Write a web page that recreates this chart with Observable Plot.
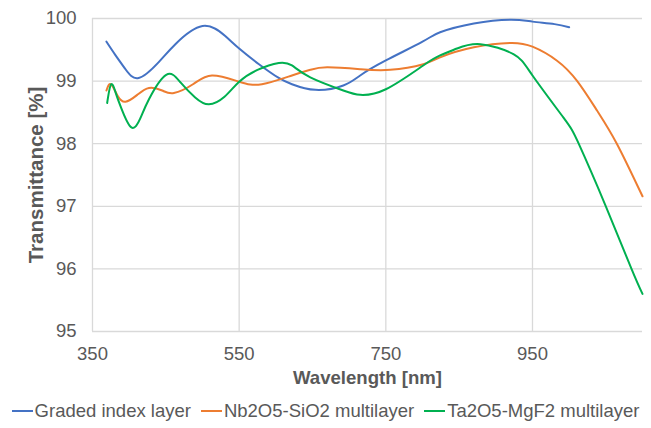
<!DOCTYPE html>
<html>
<head>
<meta charset="utf-8">
<script src="https://cdn.jsdelivr.net/npm/d3@7"></script>
<script src="https://cdn.jsdelivr.net/npm/@observablehq/plot@0.6"></script>
<style>
  body { margin: 0; background: #fff; font-family: "Liberation Sans", Arial, sans-serif; }
  #legend { display: flex; justify-content: center; align-items: center; height: 22px; margin-top: 2px;
            font-size: 18.5px; color: #595959; white-space: nowrap; }
  .item { display: flex; align-items: center; margin: 0 5px; }
  .sw { width: 21px; height: 2px; margin-right: 2px; }
</style>
</head>
<body>
<div id="chart"></div>
<div id="legend"></div>
<script>
// ---- data ----
const seriesNames = ["Graded index layer", "Nb2O5-SiO2 multilayer", "Ta2O5-MgF2 multilayer"];
const seriesColors = ["#4472C4", "#ED7D31", "#00B050"];

const gradedWavelength = [369, 381, 395, 413, 440, 463, 500, 531, 550, 577, 604, 622, 654, 692, 715, 750, 800, 824, 870, 920, 950, 980, 1000];
const gradedT          = [99.63, 99.42, 99.19, 99.05, 99.30, 99.59, 99.88, 99.72, 99.52, 99.27, 99.05, 98.95, 98.86, 98.93, 99.09, 99.33, 99.63, 99.78, 99.92, 99.98, 99.95, 99.91, 99.86];

const nbWavelength = [369, 375, 384, 395, 411, 427, 445, 461, 487, 513, 550, 581, 622, 647, 670, 715, 756, 801, 824, 870, 920, 950, 983, 1011, 1038, 1065, 1100];
const nbT          = [98.85, 98.95, 98.77, 98.67, 98.78, 98.89, 98.85, 98.81, 98.95, 99.09, 98.99, 98.95, 99.09, 99.18, 99.22, 99.19, 99.18, 99.27, 99.38, 99.54, 99.61, 99.55, 99.33, 99.00, 98.53, 98.00, 97.16];

const taWavelength = [370, 375.5, 382, 389.5, 403, 415, 427, 450.5, 470, 490, 508.7, 530, 550, 575, 604, 622, 647, 692, 715, 750, 801, 824, 847, 879, 924, 950, 992, 1013, 1050, 1085, 1100];
const taT          = [98.65, 98.95, 98.80, 98.56, 98.26, 98.40, 98.71, 99.10, 98.98, 98.74, 98.63, 98.75, 98.99, 99.18, 99.29, 99.25, 99.06, 98.85, 98.78, 98.87, 99.25, 99.41, 99.52, 99.59, 99.43, 99.09, 98.42, 98.00, 97.00, 96.00, 95.60];

const xTicks = [350, 550, 750, 950];
const yTicks = [95, 96, 97, 98, 99, 100];
const xLabel = "Wavelength [nm]";
const yLabel = "Transmittance [%]";

// ---- build table ----
const seriesX = [gradedWavelength, nbWavelength, taWavelength];
const seriesY = [gradedT, nbT, taT];
const rows = [];
seriesNames.forEach((name, i) => {
  seriesX[i].forEach((w, j) => rows.push({series: name, wl: w, t: seriesY[i][j]}));
});

const chart = Plot.plot({
  width: 651,
  height: 398,
  marginTop: 18,
  marginRight: 9,
  marginBottom: 67,
  marginLeft: 92,
  style: {fontFamily: '"Liberation Sans", Arial, sans-serif', fontSize: "18.5px", color: "#595959", background: "#fff", overflow: "visible"},
  x: {domain: [350, 1100]},
  y: {domain: [95, 100]},
  color: {domain: seriesNames, range: seriesColors},
  marks: [
    Plot.gridX(xTicks, {stroke: "#d9d9d9", strokeOpacity: 1, strokeWidth: 1.3}),
    Plot.gridY(yTicks, {stroke: "#d9d9d9", strokeOpacity: 1, strokeWidth: 1.3}),
    Plot.axisX(xTicks, {tickSize: 0, tickPadding: 15, label: null, tickFormat: d => String(d)}),
    Plot.axisY(yTicks, {tickSize: 0, tickPadding: 16, label: null, tickFormat: d => String(d)}),
    Plot.line(rows, {x: "wl", y: "t", z: "series", stroke: "series", strokeWidth: 2, curve: "natural", strokeLinecap: "round"}),
    Plot.text([xLabel], {text: d => d, frameAnchor: "bottom", lineAnchor: "middle", textAnchor: "middle", dy: 47, fontWeight: "bold", fontSize: 18.6, fill: "#595959"}),
    Plot.text([yLabel], {text: d => d, frameAnchor: "left", lineAnchor: "middle", textAnchor: "middle", dx: -56, rotate: -90, fontWeight: "bold", fontSize: 20.5, fill: "#595959"})
  ]
});
document.getElementById("chart").appendChild(chart);

const legend = document.getElementById("legend");
seriesNames.forEach((name, i) => {
  const item = document.createElement("div");
  item.className = "item";
  const sw = document.createElement("span");
  sw.className = "sw";
  sw.style.background = seriesColors[i];
  const label = document.createElement("span");
  label.textContent = name;
  item.appendChild(sw);
  item.appendChild(label);
  legend.appendChild(item);
});
</script>
</body>
</html>
